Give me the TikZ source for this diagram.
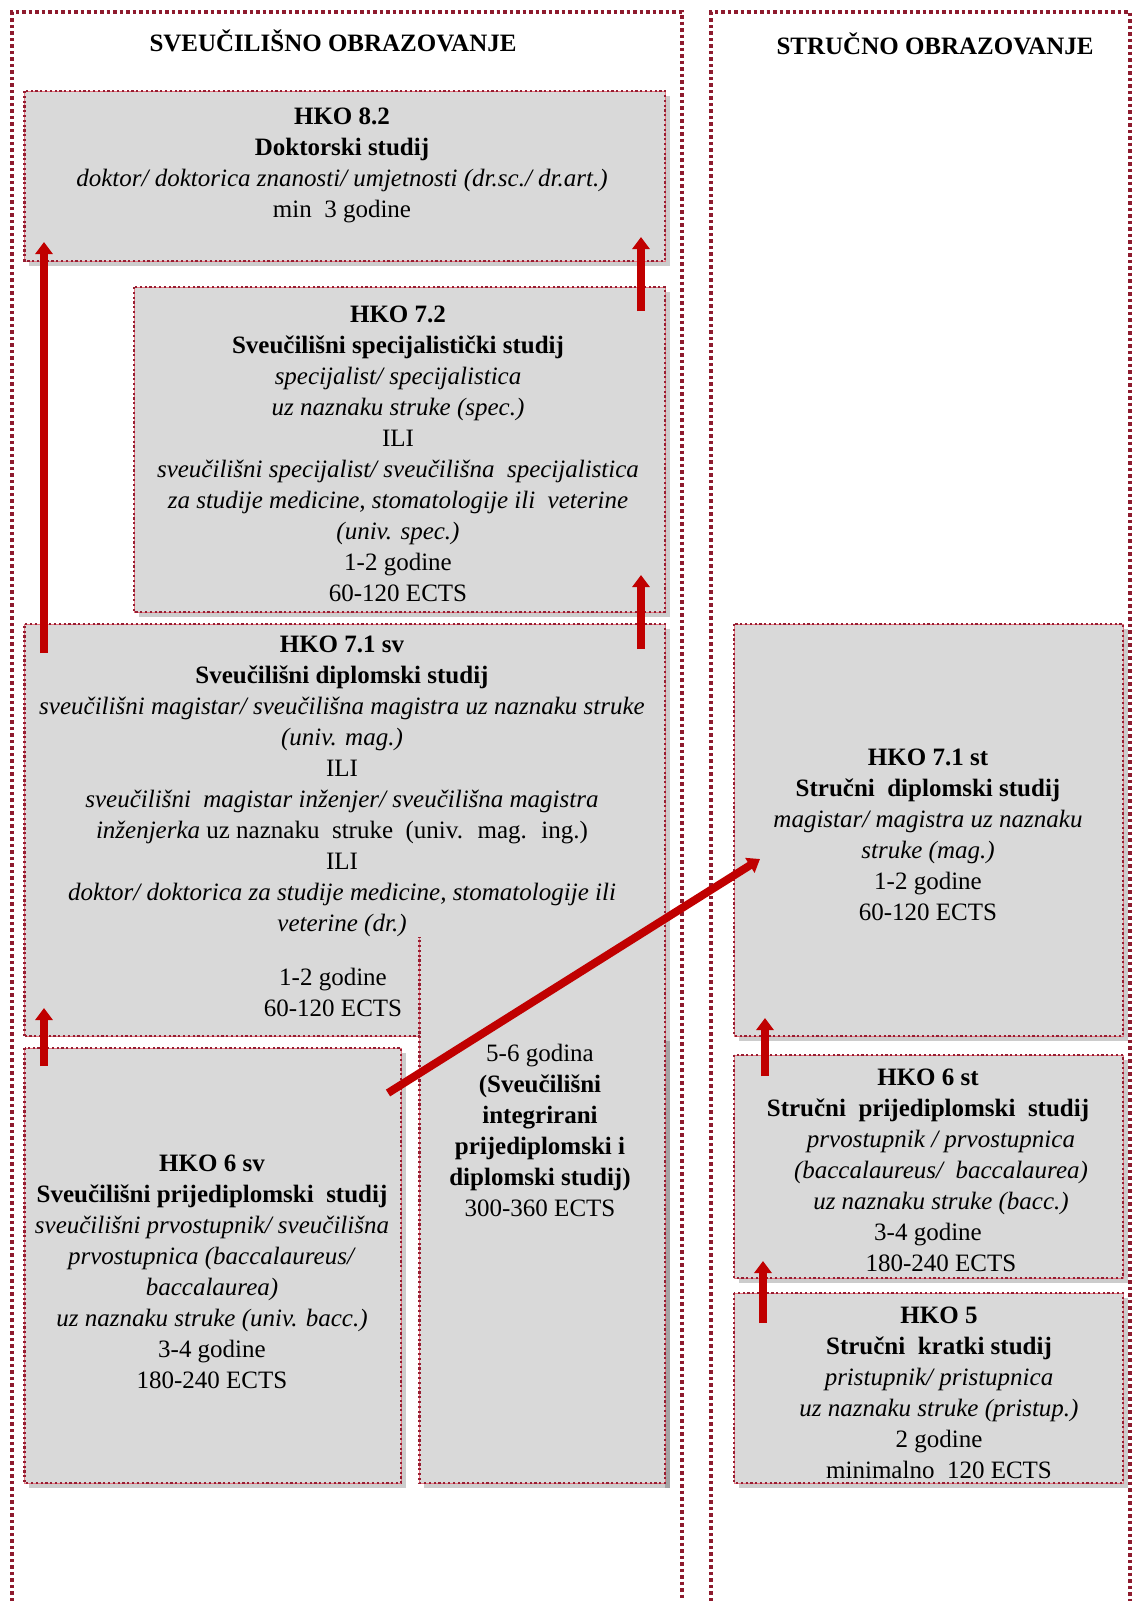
\documentclass[tikz,border=0pt]{standalone}
\usepackage{fontspec}
\setmainfont{Liberation Serif}
\usetikzlibrary{arrows.meta}
\definecolor{outerred}{RGB}{142,27,46}
\definecolor{innerdot}{RGB}{150,30,50}
\definecolor{innerline}{RGB}{232,120,130}
\definecolor{boxgray}{RGB}{217,217,217}
\definecolor{arrowred}{RGB}{192,0,0}
\tikzset{
  outerframe/.style={draw=outerred, line width=3.5pt, dash pattern=on 3.5pt off 3pt},
  innerborder/.style={draw=innerdot, line width=2.4pt, dash pattern=on 2.2pt off 2.6pt,
    preaction={draw=innerline, line width=1pt, solid}},
  grayfill/.style={fill=boxgray},
  shadowfill/.style={fill=black, opacity=0.2},
  txt/.style={font=\fontsize{25}{31}\selectfont, align=center, inner sep=0pt},
  titletxt/.style={font=\fontsize{25}{30}\selectfont\bfseries, inner sep=0pt},
  uparrow/.style={draw=arrowred, line width=8pt, -{Triangle[length=12pt,width=17pt]}},
}
\begin{document}
\begin{tikzpicture}[x=1pt,y=-1pt]
\useasboundingbox (0,0) rectangle (1133,1601);
% outer frames (open at bottom)
\draw[outerframe] (12,1601) -- (12,12) -- (682,12) -- (682,1601);
\draw[outerframe] (711,1601) -- (711,12) -- (1130,12) -- (1130,1601);
\node[titletxt] (t1) at (333,41) {SVEUČILIŠNO OBRAZOVANJE};
\node[titletxt] (t2) at (935,44) {STRUČNO OBRAZOVANJE};
% shadows
\fill[shadowfill] (29,96) rectangle (670,266);
\fill[shadowfill] (139,292) rectangle (670,617);
\fill[shadowfill] (665,629) rectangle (670,1488);
\fill[shadowfill] (29,1053) rectangle (406,1488);
\fill[shadowfill] (424,1041) rectangle (670,1488);
\fill[shadowfill] (739,629) rectangle (1128,1041);
\fill[shadowfill] (739,1060) rectangle (1128,1283);
\fill[shadowfill] (739,1298) rectangle (1128,1488);
% fills
\fill[grayfill] (24.5,91) rectangle (665,261);
\fill[grayfill] (134,287) rectangle (665,612);
\fill[grayfill] (24.5,624) rectangle (665,1036);
\fill[grayfill] (419.5,1036) rectangle (665,1483);
\fill[grayfill] (24.5,1048) rectangle (401,1483);
\fill[grayfill] (734,624) rectangle (1123,1036);
\fill[grayfill] (734,1055) rectangle (1123,1278);
\fill[grayfill] (734,1293) rectangle (1123,1483);
% borders
\draw[innerborder] (24.5,91) rectangle (665,261);
\draw[innerborder] (134,287) rectangle (665,612);
\draw[innerborder] (24.5,1036) -- (24.5,624) -- (665,624) -- (665,1483) -- (419.5,1483) -- (419.5,937);
\draw[innerborder] (24.5,1036) -- (419.5,1036);
\draw[innerborder] (24.5,1048) rectangle (401,1483);
\draw[innerborder] (734,624) rectangle (1123,1036);
\draw[innerborder] (734,1055) rectangle (1123,1278);
\draw[innerborder] (734,1293) rectangle (1123,1483);
% texts
\node[txt] (h82) at (342,165) {\textbf{HKO 8.2}\\ \textbf{Doktorski studij}\\ \textit{doktor/ doktorica znanosti/ umjetnosti (dr.sc./ dr.art.)}\\ min~ 3 godine};
\node[txt] (h72) at (398,453.5) {\textbf{HKO 7.2}\\ \textbf{Sveučilišni specijalistički studij}\\ \textit{specijalist/ specijalistica}\\ \textit{uz naznaku struke (spec.)}\\ ILI\\ \textit{sveučilišni specijalist/ sveučilišna~ specijalistica}\\ \textit{za studije medicine, stomatologije ili~ veterine}\\ \textit{(univ. spec.)}\\ 1-2 godine\\ 60-120 ECTS};
\node[txt] (h71sv) at (342,786) {\textbf{HKO 7.1 sv}\\ \textbf{Sveučilišni diplomski studij}\\ \textit{sveučilišni magistar/ sveučilišna magistra uz naznaku struke}\\ \textit{(univ. mag.)}\\ ILI\\ \textit{sveučilišni~ magistar inženjer/ sveučilišna magistra}\\ \textit{inženjerka} uz naznaku~ struke~ (univ.~ mag.~ ing.)\\ ILI\\ \textit{doktor/ doktorica za studije medicine, stomatologije ili}\\ \textit{veterine (dr.)}};
\node[txt] (h71time) at (333,992.5) {1-2 godine\\ 60-120 ECTS};
\node[txt] (integ) at (540,1130) {5-6 godina\\ \textbf{(Sveučilišni}\\ \textbf{integrirani}\\ \textbf{prijediplomski i}\\ \textbf{diplomski studij)}\\ 300-360 ECTS};
\node[txt] (h6sv) at (212,1272) {\textbf{HKO 6 sv}\\ \textbf{Sveučilišni prijediplomski~ studij}\\ \textit{sveučilišni prvostupnik/ sveučilišna}\\ \textit{prvostupnica (baccalaureus/}\\ \textit{baccalaurea)}\\ \textit{uz naznaku struke (univ. bacc.)}\\ 3-4 godine\\ 180-240 ECTS};
\node[txt] (h71st) at (928,834.5) {\textbf{HKO 7.1 st}\\ \textbf{Stručni~ diplomski studij}\\ \textit{magistar/ magistra uz naznaku}\\ \textit{struke (mag.)}\\ 1-2 godine\\ 60-120 ECTS};
\node[txt] (h6st) at (928,1170.5) {\textbf{HKO 6 st}\\ \textbf{Stručni~ prijediplomski~ studij}\\ \hspace*{26pt}\textit{prvostupnik / prvostupnica}\\ \hspace*{26pt}\textit{(baccalaureus/~ baccalaurea)}\\ \hspace*{26pt}\textit{uz naznaku struke (bacc.)}\\ 3-4 godine\\ \hspace*{26pt}180-240 ECTS};
\node[txt] (h5) at (939,1392.5) {\textbf{HKO 5}\\ \textbf{Stručni~ kratki studij}\\ \textit{pristupnik/ pristupnica}\\ \textit{uz naznaku struke (pristup.)}\\ 2 godine\\ minimalno~ 120 ECTS};
% arrow end points
\coordinate (a1s) at (44,653);   \coordinate (a1e) at (44,242);
\coordinate (a2s) at (641,311);  \coordinate (a2e) at (641,237);
\coordinate (a3s) at (641,649);  \coordinate (a3e) at (641,575);
\coordinate (a4s) at (44,1066);  \coordinate (a4e) at (44,1008);
\coordinate (a5s) at (388,1093); \coordinate (a5e) at (760,859);
\coordinate (a6s) at (765,1076); \coordinate (a6e) at (765,1018);
\coordinate (a7s) at (763,1323); \coordinate (a7e) at (763,1261);
\draw[uparrow] (a1s) -- (a1e);
\draw[uparrow] (a2s) -- (a2e);
\draw[uparrow] (a3s) -- (a3e);
\draw[uparrow] (a4s) -- (a4e);
\draw[uparrow] (a5s) -- (a5e);
\draw[uparrow] (a6s) -- (a6e);
\draw[uparrow] (a7s) -- (a7e);
\end{tikzpicture}
\end{document}
